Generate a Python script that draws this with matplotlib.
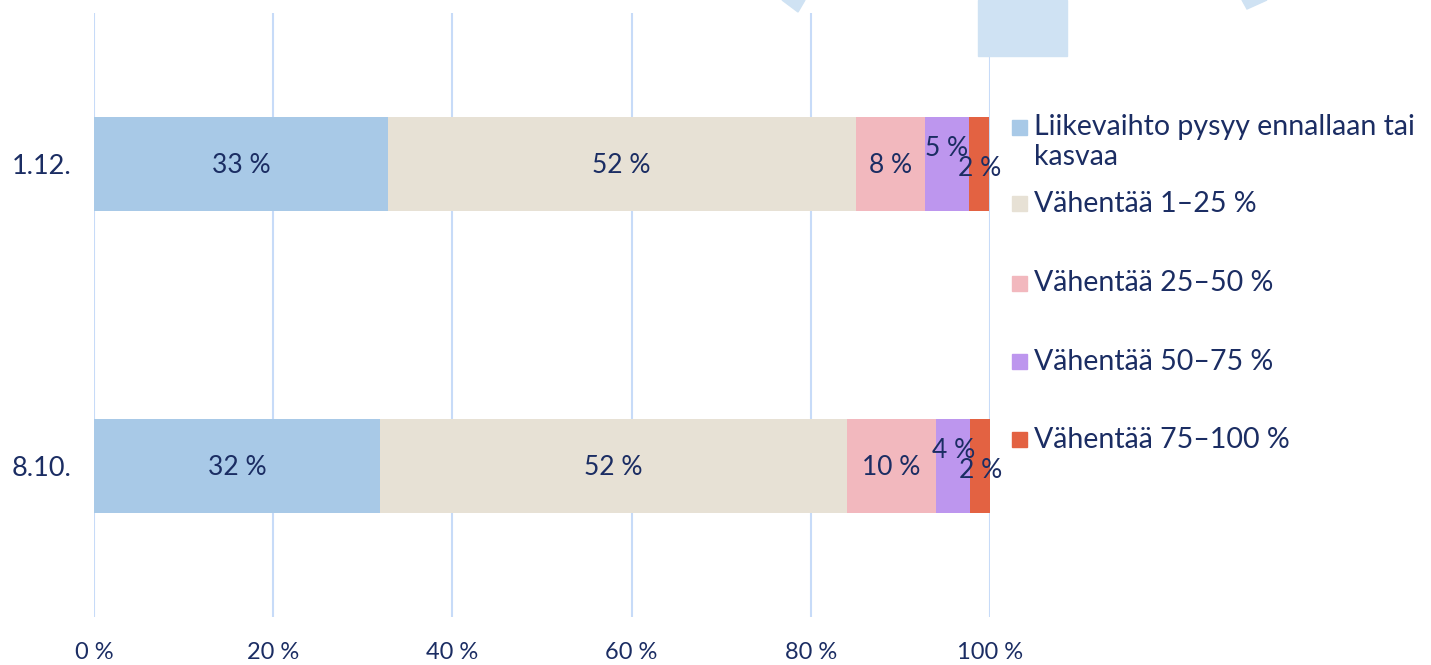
import matplotlib
matplotlib.use("Agg")
import matplotlib.pyplot as plt
from matplotlib.patches import Rectangle, Polygon

# data
rows = ["1.12.", "8.10."]
series = ["Liikevaihto pysyy ennallaan tai\nkasvaa", "Vähentää 1–25 %", "Vähentää 25–50 %",
          "Vähentää 50–75 %", "Vähentää 75–100 %"]
values = [
    [32.8, 31.9],   # pysyy / kasvaa
    [52.2, 52.1],   # 1-25
    [7.7, 10.0],    # 25-50
    [5.0, 3.8],     # 50-75
    [2.2, 2.2],     # 75-100
]
colors = ["#a8c9e7", "#e7e1d5", "#f2b8be", "#bd96ee", "#e36242"]
xticks = [0, 20, 40, 60, 80, 100]

navy = "#1b2d63"
grid_c = "#c7dbf8"
plt.rcParams['font.family'] = ['Lato', 'DejaVu Sans']

fig = plt.figure(figsize=(14.31, 6.65), dpi=100)

# decorative shapes at the top (from the slide behind the chart)
fig.patches.append(Rectangle((978 / 1431, 1 - 56 / 665), 89 / 1431, 56 / 665,
                             transform=fig.transFigure, color="#cfe2f3", zorder=0))
fig.patches.append(Polygon([(782 / 1431, 1), (805 / 1431, 1), (798 / 1431, 1 - 12 / 665)],
                           closed=True, transform=fig.transFigure, color="#cfe2f3", zorder=0))
fig.patches.append(Polygon([(1242 / 1431, 1), (1267 / 1431, 1), (1247 / 1431, 1 - 9 / 665)],
                           closed=True, transform=fig.transFigure, color="#cfe2f3", zorder=0))

ax = fig.add_axes([94 / 1431, 48 / 665, 896 / 1431, 604 / 665])
ax.patch.set_alpha(0)

ypos = [0, 1]
left = [0, 0]
for i, (name, vals) in enumerate(zip(series, values)):
    bars = ax.barh(ypos, vals, left=left, height=0.31, color=colors[i], zorder=3)
    for b, v in zip(bars, vals):
        cx = b.get_x() + b.get_width() / 2
        cy = b.get_y() + b.get_height() / 2
        dy = 11 if i == 3 else (-3 if i == 4 else -1)
        ax.annotate(f"{round(v)} %", (cx, cy), xytext=(0, dy), textcoords="offset points",
                    ha="center", va="center", fontsize=19, color=navy, zorder=5)
    left = [l + v for l, v in zip(left, vals)]

ax.set_xlim(0, 100)
ax.set_ylim(1.5, -0.5)
ax.set_xticks(xticks)
ax.set_xticklabels([f"{t} %" for t in xticks], fontsize=17, color=navy)
ax.set_yticks(ypos)
ax.set_yticklabels(rows, fontsize=19.5, color=navy)
ax.tick_params(length=0)
ax.tick_params(axis="x", pad=18)
ax.tick_params(axis="y", pad=16)
for s in ax.spines.values():
    s.set_visible(False)
ax.grid(axis="x", color=grid_c, linewidth=1.5, zorder=1)
ax.set_axisbelow(True)

# legend drawn by hand
ly = [127, 204, 283, 362, 440]
for i, name in enumerate(series):
    y = 1 - ly[i] / 665
    fig.patches.append(Rectangle((1012 / 1431, y - 7.5 / 665), 15 / 1431, 15 / 665,
                                 transform=fig.transFigure, color=colors[i]))
    fig.text(1034 / 1431, y + 13 / 665, name, fontsize=20.5, color=navy, ha="left", va="top",
             linespacing=1.2)

fig.savefig("out.png", dpi=100)
